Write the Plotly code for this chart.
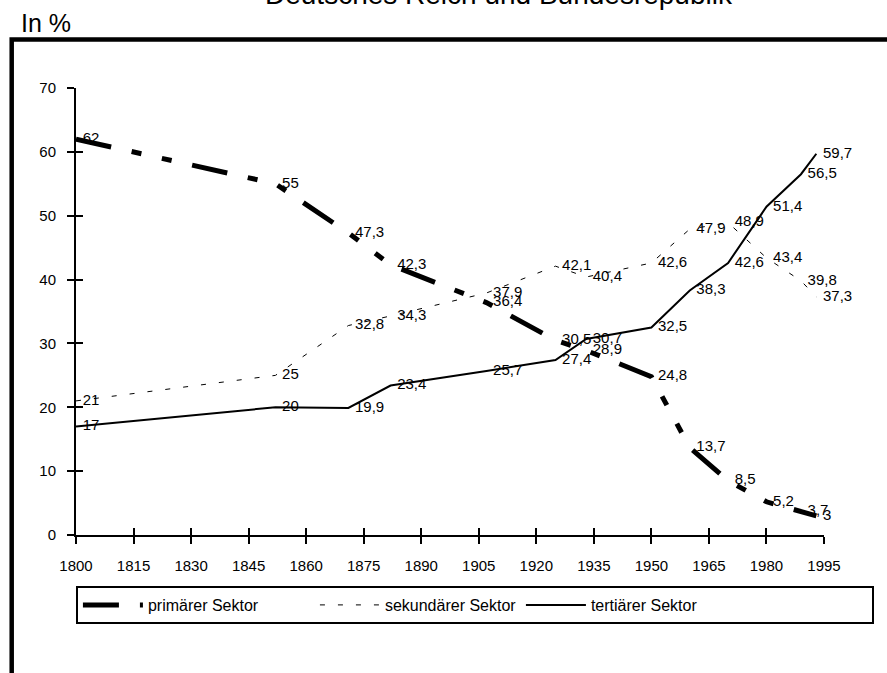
import plotly.graph_objects as go

# ---- data ----
years = [1800, 1852, 1871, 1882, 1907, 1925, 1933, 1950, 1960, 1970, 1980, 1989, 1993]
primaer = [62, 55, 47.3, 42.3, 36.4, 30.5, 28.9, 24.8, 13.7, 8.5, 5.2, 3.7, 3]
sekundaer = [21, 25, 32.8, 34.3, 37.9, 42.1, 40.4, 42.6, 47.9, 48.9, 43.4, 39.8, 37.3]
tertiaer = [17, 20, 19.9, 23.4, 25.7, 27.4, 30.7, 32.5, 38.3, 42.6, 51.4, 56.5, 59.7]
series_names = ["primärer Sektor", "sekundärer Sektor", "tertiärer Sektor"]
x_ticks = list(range(1800, 1996, 15))
y_ticks = list(range(0, 71, 10))
title_text = "Deutsches Reich und Bundesrepublik"
unit_text = "In %"

# ---- layout geometry (px) ----
W, H = 887, 673
ML, MR, MT, MB = 76, 63, 88, 138
PW, PH = W - ML - MR, H - MT - MB
FONT = "Liberation Sans, Arial, sans-serif"


def px_x(px):
    return (px - ML) / PW


def px_y(py):
    return (H - MB - py) / PH


def lab(v):
    return f"{v:g}".replace(".", ",")


fig = go.Figure()
styles = [
    dict(width=5, dash="36px,21px,10px,21px,10px,21px"),
    dict(width=1, dash="5px,13px"),
    dict(width=2, dash="solid"),
]
legend_widths = [162, 131, 276]
for name, vals, st, lw in zip(series_names, [primaer, sekundaer, tertiaer], styles, legend_widths):
    fig.add_trace(go.Scatter(
        x=years, y=vals, name=name,
        mode="lines+markers+text",
        line=dict(color="black", width=st["width"], dash=st["dash"]),
        marker=dict(size=9, color="rgba(0,0,0,0)", line=dict(width=0)),
        text=[lab(v) for v in vals],
        textposition="middle right",
        textfont=dict(family=FONT, size=15, color="black"),
        cliponaxis=False,
        legendwidth=lw,
        hoverinfo="skip",
    ))

# empty trace so that the overlaid axes (inner half of the crossing ticks) are drawn
fig.add_trace(go.Scatter(x=[], y=[], xaxis="x2", yaxis="y2", showlegend=False, hoverinfo="skip"))

axis_common = dict(showgrid=False, zeroline=False, color="black")
fig.update_layout(
    width=W, height=H,
    margin=dict(l=ML, r=MR, t=MT, b=MB, pad=0),
    paper_bgcolor="white", plot_bgcolor="white",
    font=dict(family=FONT, color="black"),
    showlegend=True,
    xaxis=dict(range=[1800, 1995], tickvals=x_ticks, ticks="outside", ticklen=7, tickwidth=2,
               tickcolor="black", showline=True, linecolor="black", linewidth=2,
               tickfont=dict(size=15, color="black"), ticklabelstandoff=9, **axis_common),
    yaxis=dict(range=[0, 70], tickvals=y_ticks, ticks="outside", ticklen=7, tickwidth=2,
               tickcolor="black", showline=True, linecolor="black", linewidth=2,
               tickfont=dict(size=15, color="black"), ticklabelstandoff=8, **axis_common),
    xaxis2=dict(range=[1800, 1995], tickvals=x_ticks, ticks="inside", ticklen=7, tickwidth=2,
                tickcolor="black", showticklabels=False, overlaying="x", anchor="y", showline=False,
                **axis_common),
    yaxis2=dict(range=[0, 70], tickvals=y_ticks, ticks="inside", ticklen=7, tickwidth=2,
                tickcolor="black", showticklabels=False, overlaying="y", anchor="x", showline=False,
                side="left", **axis_common),
    legend=dict(orientation="h", x=-0.0001, xanchor="left", y=px_y(586), yanchor="top",
                bordercolor="black", borderwidth=2, bgcolor="white",
                font=dict(family=FONT, size=16, color="black"), itemwidth=60,
                itemclick=False, itemdoubleclick=False),
    shapes=[dict(type="rect", xref="paper", yref="paper",
                 x0=px_x(11.7), x1=px_x(W + 20), y0=px_y(H + 20), y1=px_y(39.5),
                 line=dict(color="black", width=4.5), fillcolor="rgba(0,0,0,0)", layer="above")],
    annotations=[
        dict(text=unit_text, xref="paper", yref="paper", x=px_x(19), y=px_y(23),
             xanchor="left", yanchor="middle", showarrow=False,
             font=dict(family=FONT, size=25, color="black")),
        dict(text=title_text, xref="paper", yref="paper", x=px_x(498.5), y=px_y(-5),
             xanchor="center", yanchor="middle", showarrow=False,
             font=dict(family=FONT, size=28, color="black")),
    ],
)

fig.write_html(
    "out.html",
    config={"displayModeBar": False},
    post_script="document.body.style.margin='0px';document.body.style.overflow='hidden';",
)
